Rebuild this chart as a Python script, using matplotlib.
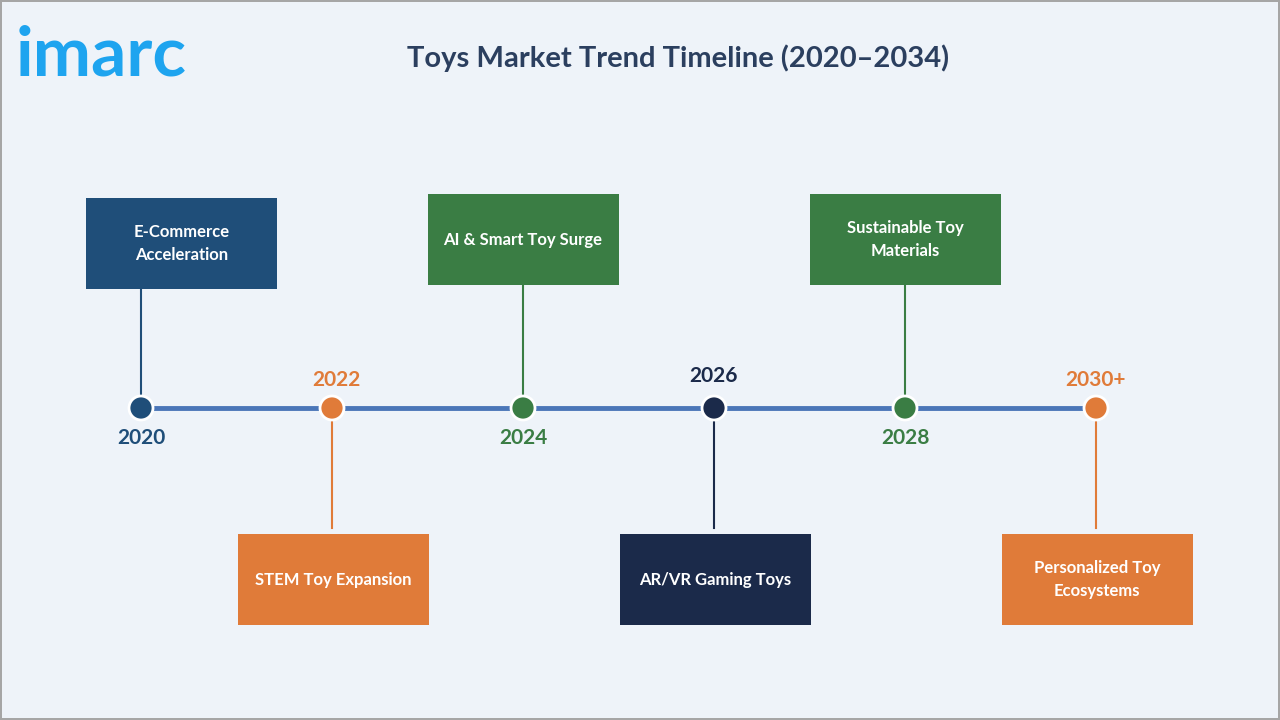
import matplotlib
matplotlib.use("Agg")
import matplotlib.pyplot as plt
from matplotlib.patches import Rectangle, Circle

years = ["2020", "2022", "2024", "2026", "2028", "2030+"]
trends = ["E-Commerce\nAcceleration", "STEM Toy Expansion", "AI & Smart Toy Surge",
          "AR/VR Gaming Toys", "Sustainable Toy\nMaterials", "Personalized Toy\nEcosystems"]
colors = ["#1f4e79", "#e07b39", "#3a7d44", "#1b2a4a", "#3a7d44", "#e07b39"]
box_above = [True, False, True, False, True, False]

fig = plt.figure(figsize=(12.8, 7.2), dpi=100)
fig.patch.set_facecolor("#a6a6a6")
ax = fig.add_axes([0, 0, 1, 1])
ax.set_xlim(0, 1280); ax.set_ylim(720, 0); ax.axis("off")
ax.add_patch(Rectangle((2, 2), 1276, 716, facecolor="#eef3f9", edgecolor="none"))

ax.text(16, 56, "imarc", fontsize=50, fontweight="bold", color="#1ea4ef", va="center", ha="left", family="Lato")
ax.text(678, 58, "Toys Market Trend Timeline (2020–2034)", fontsize=21, fontweight="bold",
        color="#2b3f5f", ha="center", va="center", family="Lato")

x0, dx, ly = 141, 191, 408
xs = [x0 + i * dx for i in range(len(years))]
ax.plot([xs[0], xs[-1]], [ly, ly], color="#4a76b8", lw=3.5, zorder=1)
bw, bh = 191, 91
tf = dict(color="white", fontsize=12, fontweight="bold", ha="center", va="center",
          linespacing=1.5, zorder=3, family="Lato")
for i, (x, yr, t, c, up) in enumerate(zip(xs, years, trends, colors, box_above)):
    if up:
        top = 198 if i == 0 else 194
        bx = x - 55 + bw / 2 if i == 0 else x
        ax.plot([x, x], [top + bh, ly], color=c, lw=1.5, zorder=1)
        ax.add_patch(Rectangle((bx - bw / 2, top), bw, bh, facecolor=c, zorder=2))
        ax.text(bx, top + bh / 2, t, **tf)
    else:
        top = 534
        bx = x + 1
        ax.plot([x, x], [ly, 528], color=c, lw=1.5, zorder=1)
        ax.add_patch(Rectangle((bx - bw / 2, top), bw, bh, facecolor=c, zorder=2))
        ax.text(bx, top + bh / 2, t, **tf)
    ax.add_patch(Circle((x, ly), 12, facecolor=c, edgecolor="white", lw=2, zorder=4))
    ty = 438 if up else 380
    if i == 3:
        ty = 376
    ax.text(x + (4 if i == 1 else 0), ty, yr, color=c, fontsize=15, fontweight="bold",
            ha="center", va="center", family="Lato")

fig.savefig("out.png", dpi=100, facecolor=fig.get_facecolor())
